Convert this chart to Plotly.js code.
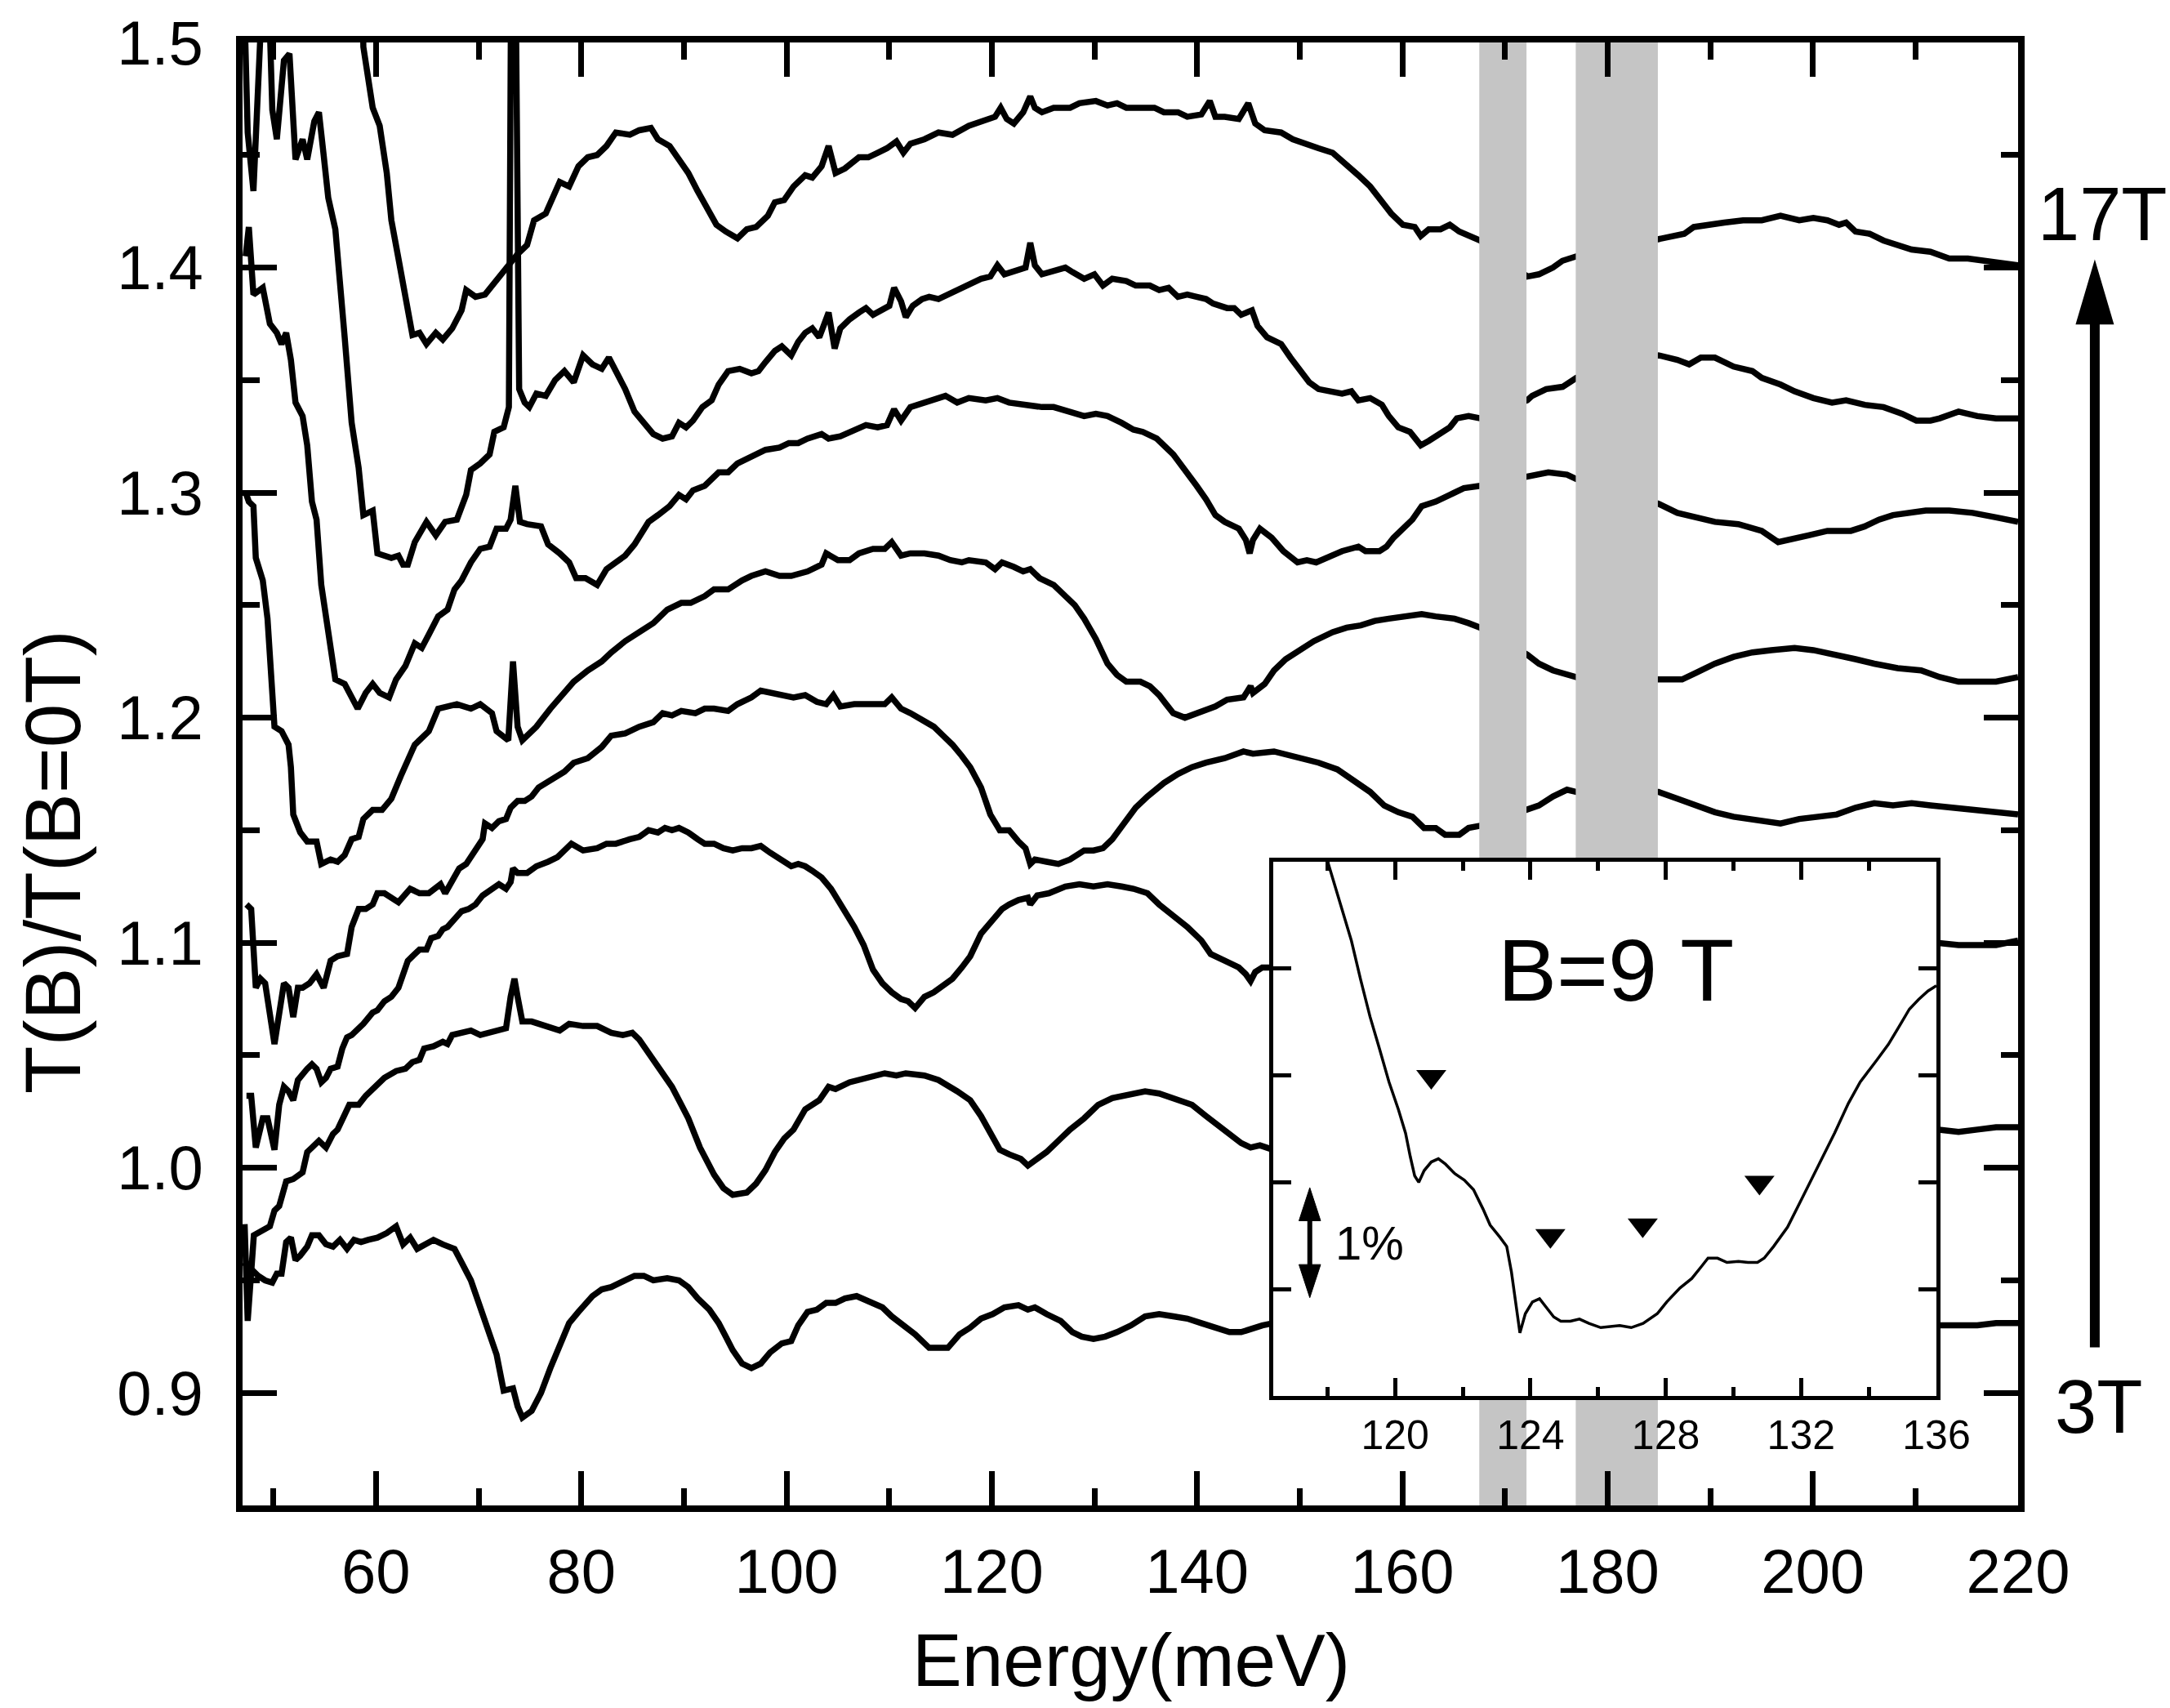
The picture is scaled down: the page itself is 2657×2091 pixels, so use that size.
<!DOCTYPE html>
<html>
<head>
<meta charset="utf-8">
<script src="https://cdn.plot.ly/plotly-3.0.1.min.js"></script>
<style>html,body{margin:0;padding:0;background:#fff;}#chart{width:2657px;height:2091px;}</style>
</head>
<body>
<div id="chart"></div>
<script>
// ---------- main panel data : Energy (meV) and T(B)/T(B=0T) ----------
const fields = ["3T","5T","7T","9T","11T","13T","15T","17T"];

const b17_E = [58.5,58.77,59.68,60.36,61.05,61.5,62.19,62.87,63.55,64.24,64.92,65.83,66.51,67.43,68.34,68.79,69.7,70.62,71.3,71.98,72.67,73.8,74.72,75.4,76.54,77.45,77.9,78.82,79.73,80.64,81.55,82.46,83.37,84.74,85.65,86.79,87.47,88.61,89.52,90.43,91.34,92.26,93.17,94.08,95.22,96.13,97.04,98.18,98.86,99.77,100.68,101.82,102.51,103.42,104.1,104.78,105.69,107.06,107.97,108.88,109.79,110.71,111.39,112.07,113.44,114.81,116.17,117.77,118.95,120.32,120.87,121.46,122.15,123.06,123.75,124.2,124.89,126.03,127.63,128.54,130.14,131.28,132.2,133.11,134.48,135.85,136.77,138.14,139.05,140.42,141.24,141.79,142.7,144.07,144.99,145.67,146.59,148.19,149.33,150.47,151.84,153.21,154.58,155.72,156.87,158.01,158.92,160.06,161.21,161.8,162.58,163.72,164.63,165.55,166.46,167.6,172.17,173.31,174.68,175.6,176.97,184.97,186.1,187.47,188.4,189.54,191.37,193.2,195.02,196.85,198.68,200.05,201.42,202.56,203.24,204.16,205.53,206.89,208.26,209.63,211.46,213.29,215.11,216.94,217.85,220.0];
const b17_T = [1.56,1.498,1.471,1.463,1.442,1.421,1.404,1.388,1.370,1.371,1.366,1.371,1.368,1.373,1.381,1.390,1.387,1.388,1.392,1.396,1.400,1.406,1.410,1.421,1.424,1.434,1.438,1.436,1.445,1.449,1.450,1.454,1.460,1.459,1.461,1.462,1.457,1.454,1.448,1.442,1.434,1.427,1.419,1.416,1.413,1.417,1.418,1.423,1.429,1.430,1.436,1.441,1.440,1.445,1.454,1.442,1.444,1.449,1.449,1.451,1.453,1.456,1.451,1.455,1.457,1.460,1.459,1.463,1.465,1.467,1.471,1.466,1.464,1.469,1.476,1.471,1.469,1.471,1.471,1.473,1.474,1.472,1.473,1.471,1.471,1.471,1.469,1.469,1.467,1.468,1.474,1.467,1.467,1.466,1.473,1.464,1.461,1.460,1.457,1.455,1.453,1.451,1.446,1.441,1.436,1.429,1.424,1.419,1.418,1.414,1.417,1.417,1.419,1.416,1.414,1.412,1.396,1.397,1.400,1.403,1.405,1.413,1.414,1.415,1.418,1.419,1.420,1.421,1.421,1.423,1.421,1.422,1.421,1.419,1.420,1.416,1.415,1.412,1.410,1.408,1.407,1.404,1.404,1.403,1.402,1.401];

const b15_E = [47.1,47.5,48.06,48.6,49.0,49.5,49.9,50.34,50.8,51.03,51.57,52.16,52.85,53.3,53.99,54.44,54.9,55.35,56.04,56.49,56.95,57.63,58.31,58.77,59.68,60.14,61.5,62.19,62.64,63.1,63.78,64.92,65.83,66.74,67.88,68.79,69.25,70.16,71.07,71.53,72.44,72.95,73.2,73.55,73.95,74.49,74.94,75.63,76.54,77.45,78.36,79.27,80.18,81.09,82.0,82.69,83.37,84.28,85.19,86.1,87.02,87.93,88.84,89.52,90.21,90.89,91.8,92.71,93.39,94.31,95.44,96.58,97.27,97.95,98.86,99.54,100.46,101.14,101.82,102.51,103.19,104.1,104.69,105.24,106.15,107.06,107.74,108.43,109.34,110.02,110.48,111.16,111.62,112.3,113.21,113.9,114.81,116.17,117.77,118.95,119.86,120.55,121.23,122.6,123.29,123.75,124.2,124.89,126.26,127.17,127.86,129.0,130.0,130.83,131.74,133.11,134.02,135.4,136.31,137.23,138.14,139.05,139.96,140.88,141.56,142.93,143.62,144.3,145.35,145.9,146.82,148.19,149.1,150.01,150.93,151.84,153.21,154.13,155.04,155.72,156.87,158.01,158.69,159.61,160.75,161.8,162.58,163.72,164.63,165.32,166.46,167.6,172.17,172.65,174.02,175.62,176.97,184.98,186.8,187.95,189.09,190.46,192.28,194.11,195.02,196.85,198.22,200.05,201.87,203.24,205.07,206.89,208.72,210.09,211.46,212.37,214.2,216.03,217.85,220.0];
const b15_T = [1.53,1.46,1.434,1.48,1.53,1.53,1.47,1.457,1.48,1.492,1.495,1.448,1.457,1.448,1.465,1.469,1.450,1.431,1.417,1.396,1.369,1.331,1.311,1.290,1.292,1.273,1.271,1.272,1.268,1.268,1.278,1.287,1.281,1.287,1.288,1.299,1.310,1.313,1.317,1.327,1.329,1.338,1.56,1.56,1.346,1.340,1.338,1.344,1.343,1.350,1.354,1.349,1.361,1.357,1.355,1.360,1.354,1.346,1.336,1.331,1.326,1.324,1.325,1.331,1.329,1.332,1.338,1.341,1.348,1.354,1.355,1.353,1.354,1.358,1.363,1.365,1.361,1.367,1.371,1.373,1.369,1.380,1.364,1.373,1.377,1.380,1.382,1.379,1.381,1.383,1.391,1.385,1.378,1.383,1.386,1.387,1.386,1.389,1.392,1.395,1.396,1.401,1.397,1.399,1.400,1.411,1.401,1.397,1.399,1.400,1.398,1.395,1.397,1.392,1.395,1.394,1.392,1.392,1.390,1.391,1.387,1.388,1.387,1.386,1.384,1.382,1.382,1.379,1.381,1.374,1.369,1.366,1.360,1.355,1.349,1.346,1.345,1.344,1.345,1.341,1.342,1.339,1.334,1.329,1.327,1.321,1.323,1.326,1.329,1.333,1.334,1.333,1.341,1.343,1.346,1.347,1.351,1.361,1.359,1.357,1.360,1.360,1.356,1.354,1.351,1.348,1.345,1.342,1.340,1.341,1.339,1.338,1.335,1.332,1.332,1.333,1.336,1.334,1.333,1.333];

const b13_E = [47.3,47.61,48.06,48.97,49.66,50.34,50.8,51.25,51.71,52.16,52.85,53.3,53.76,54.21,54.67,55.35,56.04,56.95,57.63,58.22,59.0,59.68,60.36,61.28,61.96,62.87,63.78,64.46,65.15,66.06,66.97,67.65,68.34,69.25,70.16,71.07,71.75,72.67,73.12,73.58,74.03,74.72,76.08,76.77,77.9,78.82,79.5,80.41,81.55,82.46,83.37,84.28,85.19,86.56,87.47,88.61,89.52,90.21,90.89,92.03,93.39,94.31,95.22,96.58,97.95,99.32,100.23,101.14,102.05,103.42,104.1,105.24,106.61,107.74,108.88,109.79,110.48,111.16,112.07,113.44,114.81,115.49,116.63,117.77,119.41,120.55,121.69,123.06,123.75,124.89,126.03,127.63,129.0,130.14,131.28,132.65,133.8,134.71,136.08,137.68,139.05,139.96,140.88,141.79,142.7,144.07,144.76,145.13,145.45,146.13,147.27,148.41,149.79,150.7,151.61,152.75,154.13,155.72,156.41,157.78,158.46,159.15,160.98,161.89,163.26,164.63,166.0,167.6,172.17,174.23,176.05,176.97,184.98,186.8,188.63,190.46,192.74,195.02,196.62,197.76,199.59,201.42,203.7,205.07,206.44,207.81,209.18,211.0,213.29,215.57,217.85,220.0];
const b13_T = [1.405,1.418,1.388,1.391,1.375,1.371,1.366,1.371,1.359,1.340,1.334,1.321,1.296,1.288,1.259,1.238,1.217,1.215,1.209,1.204,1.211,1.215,1.211,1.209,1.217,1.223,1.233,1.231,1.237,1.245,1.248,1.257,1.261,1.269,1.275,1.276,1.284,1.284,1.288,1.303,1.287,1.286,1.285,1.277,1.273,1.269,1.262,1.262,1.259,1.266,1.269,1.272,1.277,1.287,1.290,1.294,1.299,1.297,1.301,1.303,1.309,1.309,1.313,1.316,1.319,1.320,1.322,1.322,1.324,1.326,1.324,1.325,1.328,1.330,1.329,1.330,1.337,1.332,1.338,1.340,1.342,1.343,1.340,1.342,1.341,1.342,1.340,1.339,1.339,1.338,1.338,1.336,1.334,1.335,1.334,1.331,1.328,1.327,1.324,1.317,1.309,1.303,1.297,1.290,1.287,1.284,1.279,1.273,1.279,1.284,1.280,1.274,1.269,1.270,1.269,1.271,1.274,1.276,1.274,1.274,1.276,1.280,1.288,1.294,1.296,1.299,1.302,1.303,1.307,1.309,1.308,1.306,1.295,1.291,1.289,1.287,1.286,1.283,1.278,1.279,1.281,1.283,1.283,1.285,1.288,1.290,1.291,1.292,1.292,1.291,1.289,1.287];

const b11_E = [47.3,47.61,48.06,48.29,48.97,49.43,50.11,50.8,51.48,51.71,51.94,52.62,53.3,54.21,54.67,55.58,56.26,56.95,57.63,58.31,58.77,59.68,60.59,61.5,62.41,63.78,65.15,66.06,67.88,69.25,70.16,71.3,71.75,72.44,72.89,73.35,73.8,74.26,75.63,76.99,78.36,79.27,80.64,82.0,82.92,84.28,85.65,87.02,88.38,89.75,90.66,92.03,92.94,94.31,95.67,96.58,97.95,99.32,100.46,101.14,102.05,103.42,103.87,105.01,106.15,107.06,108.43,109.57,110.25,111.16,112.07,113.44,114.81,115.95,117.08,117.77,119.41,120.32,121.0,122.15,123.06,123.75,124.66,126.03,127.17,128.09,129.0,130.14,131.28,132.2,133.11,134.48,135.4,136.31,136.99,137.68,138.82,139.96,140.88,141.79,142.93,144.53,145.22,145.45,146.59,147.5,148.64,150.01,151.38,153.21,154.58,155.95,157.32,158.69,160.52,161.89,163.26,165.09,166.46,167.6,172.17,173.31,174.68,176.05,176.97,184.98,187.26,188.63,190.46,192.28,194.11,195.94,198.22,200.05,202.33,204.16,205.98,208.26,210.55,212.37,214.2,216.03,217.85,220.0];
const b11_T = [1.300,1.296,1.294,1.271,1.261,1.244,1.196,1.194,1.188,1.178,1.157,1.149,1.145,1.145,1.135,1.137,1.136,1.139,1.146,1.147,1.155,1.159,1.159,1.164,1.174,1.188,1.194,1.204,1.206,1.204,1.206,1.202,1.194,1.192,1.190,1.225,1.196,1.190,1.196,1.204,1.211,1.216,1.221,1.225,1.229,1.234,1.238,1.242,1.248,1.251,1.251,1.254,1.257,1.257,1.261,1.263,1.265,1.263,1.263,1.264,1.265,1.268,1.273,1.270,1.270,1.273,1.275,1.275,1.278,1.272,1.273,1.273,1.272,1.270,1.269,1.270,1.269,1.266,1.269,1.267,1.265,1.266,1.262,1.259,1.254,1.250,1.244,1.235,1.224,1.219,1.216,1.216,1.214,1.210,1.206,1.202,1.200,1.202,1.204,1.205,1.208,1.209,1.214,1.211,1.215,1.221,1.226,1.230,1.234,1.238,1.240,1.241,1.243,1.244,1.245,1.246,1.245,1.244,1.242,1.240,1.228,1.224,1.221,1.219,1.218,1.217,1.217,1.220,1.224,1.227,1.229,1.230,1.231,1.230,1.228,1.226,1.224,1.222,1.221,1.218,1.216,1.216,1.216,1.218];

const b9_E = [47.38,47.84,48.29,48.75,49.2,50.11,51.03,51.48,51.94,52.39,52.85,53.53,54.21,54.9,55.58,56.26,57.18,57.63,58.31,59.0,59.68,60.14,60.82,62.19,63.33,64.24,65.15,65.83,66.29,66.74,67.43,68.11,68.79,69.48,70.39,70.62,71.3,71.98,72.67,73.12,73.8,74.49,75.17,75.85,76.54,77.45,78.36,79.27,80.64,82.0,82.92,84.28,85.65,87.02,87.93,88.84,89.75,91.12,92.03,92.94,94.31,95.22,96.58,97.49,98.41,99.32,100.68,101.82,102.96,103.87,104.56,105.24,106.61,108.43,109.57,110.25,111.16,112.07,113.44,114.35,115.26,116.17,117.08,117.9,118.95,119.86,120.78,121.69,122.6,123.29,123.75,124.2,125.34,126.49,127.63,129.0,129.91,130.83,131.74,133.11,134.02,135.17,136.77,138.14,139.51,140.88,142.7,144.53,145.45,147.5,150.01,151.84,153.67,155.5,156.87,158.24,159.61,160.98,162.12,163.26,164.17,165.55,166.46,167.6,172.17,173.31,174.68,176.05,176.97,184.98,186.8,188.63,190.46,192.28,195.02,196.85,198.68,200.5,202.33,204.16,205.98,207.81,209.63,211.46,213.29,215.11,216.94,220.0];
const b9_T = [1.117,1.115,1.080,1.084,1.082,1.055,1.082,1.080,1.067,1.080,1.080,1.082,1.086,1.080,1.092,1.094,1.095,1.107,1.115,1.115,1.117,1.122,1.122,1.118,1.124,1.122,1.122,1.124,1.126,1.122,1.127,1.133,1.135,1.140,1.146,1.153,1.151,1.154,1.155,1.160,1.163,1.163,1.165,1.169,1.171,1.174,1.176,1.180,1.182,1.187,1.192,1.193,1.196,1.198,1.202,1.201,1.203,1.202,1.204,1.204,1.203,1.206,1.209,1.212,1.211,1.210,1.209,1.210,1.207,1.206,1.210,1.205,1.206,1.206,1.206,1.209,1.204,1.202,1.198,1.196,1.192,1.188,1.183,1.178,1.169,1.157,1.150,1.150,1.145,1.142,1.135,1.137,1.136,1.135,1.137,1.141,1.141,1.142,1.146,1.155,1.160,1.165,1.171,1.175,1.178,1.180,1.182,1.185,1.184,1.185,1.182,1.180,1.177,1.171,1.167,1.161,1.158,1.156,1.151,1.151,1.148,1.148,1.151,1.152,1.159,1.161,1.165,1.168,1.167,1.167,1.164,1.161,1.158,1.156,1.154,1.153,1.155,1.156,1.157,1.160,1.162,1.161,1.162,1.161,1.160,1.159,1.158,1.157];

const b7_E = [47.38,47.84,48.29,48.97,49.43,50.11,50.57,51.03,51.48,51.94,52.39,52.85,53.3,53.76,54.21,54.67,55.13,55.58,56.26,56.72,57.18,57.63,58.09,58.77,59.68,60.14,60.82,61.5,62.19,62.64,63.1,63.55,64.24,64.92,65.38,66.06,66.51,66.97,67.65,68.34,69.02,69.7,70.39,71.07,71.98,72.67,73.12,73.35,73.8,74.72,75.63,76.77,77.68,78.36,79.04,80.18,81.55,82.46,83.37,84.74,85.65,86.56,87.47,88.16,88.84,89.52,90.43,91.34,92.03,92.94,93.85,94.76,95.67,96.58,97.49,98.41,99.32,100.46,101.14,101.82,102.51,103.42,104.33,105.01,105.69,106.61,107.52,108.43,109.34,110.25,111.16,111.85,112.53,113.44,114.35,115.26,116.17,117.08,117.9,118.95,119.86,120.55,121.0,121.69,122.6,123.52,123.75,124.43,125.57,127.17,128.54,129.91,131.28,132.65,133.8,135.17,136.31,137.68,139.05,140.42,141.33,142.7,144.07,144.76,145.22,145.67,146.36,147.42,null,212.1,214.2,216.03,217.85,220.0];
const b7_T = [1.032,1.032,1.009,1.022,1.022,1.008,1.028,1.036,1.034,1.030,1.039,1.042,1.044,1.046,1.044,1.038,1.040,1.044,1.045,1.053,1.058,1.059,1.061,1.064,1.069,1.070,1.074,1.076,1.080,1.086,1.092,1.094,1.097,1.097,1.102,1.103,1.106,1.107,1.111,1.114,1.115,1.117,1.121,1.123,1.126,1.124,1.127,1.133,1.131,1.131,1.134,1.136,1.138,1.141,1.144,1.141,1.142,1.144,1.144,1.146,1.147,1.150,1.149,1.151,1.150,1.151,1.149,1.146,1.144,1.144,1.142,1.141,1.142,1.142,1.143,1.140,1.137,1.134,1.135,1.134,1.132,1.129,1.124,1.119,1.113,1.107,1.099,1.088,1.082,1.078,1.075,1.074,1.071,1.076,1.078,1.081,1.084,1.089,1.094,1.104,1.109,1.113,1.115,1.117,1.119,1.120,1.117,1.121,1.122,1.125,1.126,1.125,1.126,1.125,1.124,1.122,1.117,1.112,1.107,1.101,1.095,1.092,1.089,1.086,1.083,1.087,1.089,1.089,null,1.100,1.099,1.099,1.099,1.101];

const b5_E = [47.2,47.5,48.1,48.97,49.66,50.11,50.57,51.25,51.94,52.85,53.3,53.76,54.44,55.13,55.81,56.26,57.4,58.31,59.0,60.14,60.82,61.96,62.87,63.55,64.24,64.69,65.6,66.51,66.97,67.43,68.34,69.25,70.16,71.07,71.98,72.67,73.12,73.49,73.8,74.26,75.17,76.54,77.9,78.82,80.18,81.55,82.92,84.05,84.97,85.65,86.56,87.7,88.84,89.75,90.43,91.57,92.26,92.94,93.85,94.76,96.13,97.04,97.95,98.86,99.77,100.68,101.82,103.19,104.1,104.78,106.15,107.06,108.43,109.57,110.71,111.62,113.44,114.81,116.63,117.9,118.95,120.09,120.78,121.69,122.83,123.52,124.43,125.34,126.71,127.63,129.0,130.37,131.74,133.57,134.94,136.31,137.68,139.51,140.88,141.79,142.93,144.3,145.22,146.13,147.42,null,212.1,214.2,216.03,217.85,220.0];
const b5_T = [0.975,0.932,0.970,0.972,0.974,0.981,0.983,0.994,0.995,0.998,1.007,1.009,1.012,1.009,1.015,1.017,1.028,1.028,1.032,1.037,1.040,1.043,1.044,1.047,1.048,1.053,1.054,1.056,1.055,1.059,1.060,1.061,1.059,1.060,1.061,1.062,1.076,1.084,1.076,1.065,1.065,1.063,1.061,1.064,1.063,1.063,1.060,1.059,1.060,1.057,1.051,1.044,1.036,1.028,1.022,1.009,1.003,0.997,0.991,0.988,0.989,0.993,0.999,1.007,1.013,1.017,1.026,1.030,1.036,1.035,1.038,1.039,1.041,1.042,1.041,1.042,1.041,1.039,1.034,1.030,1.023,1.013,1.008,1.006,1.004,1.001,1.004,1.007,1.013,1.017,1.022,1.028,1.031,1.033,1.034,1.033,1.031,1.028,1.023,1.020,1.016,1.011,1.009,1.010,1.008,null,1.017,1.016,1.017,1.018,1.018];

const b3_E = [47.1,47.38,48.52,49.2,49.89,50.34,50.8,51.25,51.71,52.16,52.62,53.3,53.76,54.44,55.13,55.81,56.49,57.18,57.86,58.54,59.23,60.14,61.05,61.96,62.64,63.33,64.01,64.69,65.6,66.51,67.65,68.34,69.25,70.16,71.07,71.75,72.44,73.35,73.8,74.26,75.17,76.08,76.99,77.9,78.82,79.73,81.09,82.0,82.92,84.28,85.19,86.1,87.02,88.38,89.52,90.43,91.34,92.48,93.39,94.08,94.76,95.67,96.58,97.49,98.41,99.54,100.46,101.14,102.05,102.96,103.87,104.78,105.69,106.83,107.97,109.34,110.25,111.16,112.53,113.9,114.81,115.72,116.86,117.9,118.95,120.09,121.23,122.6,123.52,124.2,125.34,126.71,127.86,128.77,129.91,131.05,132.2,133.57,134.94,136.31,137.68,139.05,140.42,141.79,143.16,144.3,145.45,146.36,147.42,null,212.1,214.2,216.03,217.85,220.0];
const b3_T = [0.958,0.957,0.952,0.950,0.949,0.953,0.953,0.967,0.969,0.959,0.961,0.965,0.970,0.970,0.966,0.965,0.968,0.964,0.968,0.967,0.968,0.969,0.971,0.974,0.966,0.969,0.964,0.966,0.968,0.966,0.964,0.958,0.950,0.938,0.925,0.917,0.901,0.902,0.894,0.889,0.892,0.900,0.911,0.921,0.931,0.936,0.943,0.946,0.947,0.950,0.952,0.952,0.950,0.951,0.950,0.947,0.942,0.937,0.931,0.925,0.919,0.913,0.911,0.913,0.918,0.922,0.923,0.930,0.936,0.937,0.940,0.940,0.942,0.943,0.941,0.938,0.934,0.931,0.926,0.920,0.920,0.920,0.926,0.929,0.933,0.935,0.938,0.939,0.937,0.938,0.935,0.932,0.927,0.925,0.924,0.925,0.927,0.930,0.934,0.935,0.934,0.933,0.931,0.929,0.927,0.927,0.929,0.930,0.931,null,0.930,0.930,0.930,0.931,0.931];

// grey (excluded) energy windows, meV
const bandLo = [167.5, 176.9];
const bandHi = [172.1, 184.9];

// ---------- inset (B = 9 T, zoom 116-136 meV, relative %) ----------
const in_E = [118.01,118.43,118.71,118.98,119.26,119.54,119.82,120.10,120.31,120.45,120.58,120.70,120.86,121.07,121.28,121.49,121.77,122.05,122.32,122.60,122.81,123.09,123.30,123.44,123.58,123.69,123.85,124.06,124.27,124.48,124.69,124.90,125.18,125.45,125.73,126.08,126.36,126.64,126.98,127.33,127.75,128.03,128.42,128.77,129.05,129.25,129.53,129.81,130.15,130.43,130.71,130.91,131.19,131.60,131.95,132.30,132.64,132.99,133.40,133.75,134.23,134.58,134.92,135.20,135.47,135.75,136.0];
const in_P = [5.00,4.56,4.26,3.90,3.55,3.25,2.94,2.68,2.46,2.24,2.06,2.00,2.11,2.19,2.22,2.17,2.08,2.02,1.93,1.75,1.60,1.49,1.40,1.16,0.83,0.59,0.77,0.88,0.91,0.83,0.74,0.70,0.70,0.72,0.68,0.64,0.65,0.66,0.64,0.68,0.77,0.88,1.01,1.10,1.21,1.29,1.29,1.25,1.26,1.25,1.25,1.29,1.40,1.58,1.80,2.02,2.24,2.46,2.74,2.94,3.14,3.29,3.47,3.62,3.71,3.79,3.84];
const mark_E = [121.07, 124.59, 127.32, 130.77];
const mark_P = [2.99, 1.50, 1.60, 2.00];

// ---------- styling ----------
const FONT = 'Liberation Sans, Arial, Helvetica, sans-serif';
const BLACK = '#000000';
const GREY = '#c5c5c5';
const yRange = [0.85, 1.5];

const curves = {"3T":[b3_E,b3_T],"5T":[b5_E,b5_T],"7T":[b7_E,b7_T],"9T":[b9_E,b9_T],
                "11T":[b11_E,b11_T],"13T":[b13_E,b13_T],"15T":[b15_E,b15_T],"17T":[b17_E,b17_T]};

const traces = [];
fields.forEach(f => {
  traces.push({x: curves[f][0], y: curves[f][1], name: f, type: 'scatter', mode: 'lines',
    xaxis: 'x', yaxis: 'y', line: {color: BLACK, width: 7.5}, hoverinfo: 'skip', showlegend: false});
});
bandLo.forEach((lo, i) => {
  const hi = bandHi[i];
  traces.push({x: [lo, hi, hi, lo, lo], y: [yRange[0], yRange[0], yRange[1], yRange[1], yRange[0]],
    type: 'scatter', mode: 'lines', fill: 'toself', fillcolor: GREY, line: {width: 0, color: GREY},
    xaxis: 'x', yaxis: 'y', hoverinfo: 'skip', showlegend: false});
});
traces.push({x: in_E, y: in_P, type: 'scatter', mode: 'lines', xaxis: 'x2', yaxis: 'y2',
  line: {color: BLACK, width: 3.5}, hoverinfo: 'skip', showlegend: false});
traces.push({x: mark_E, y: mark_P, type: 'scatter', mode: 'markers', xaxis: 'x2', yaxis: 'y2',
  marker: {symbol: 'triangle-down', size: 32, color: BLACK}, hoverinfo: 'skip', showlegend: false});

// arrow on the right (paper coordinates)
const arrX = 1.0432, arrTail = 0.108, arrTip = 0.8498, headLen = 0.042, headHalf = 0.0102;
// double arrow "1%" in inset coordinates
const dX = 117.48, dTop = 1.95, dBot = 0.92, dHead = 0.31, dHalf = 0.32;

const shapes = [
  {type: 'line', xref: 'paper', yref: 'paper', x0: arrX, x1: arrX, y0: arrTail, y1: arrTip - headLen + 0.003,
   line: {color: BLACK, width: 12}, layer: 'above'},
  {type: 'path', xref: 'paper', yref: 'paper', layer: 'above', fillcolor: BLACK, line: {color: BLACK, width: 2},
   path: `M ${arrX - headHalf},${arrTip - headLen} L ${arrX + headHalf},${arrTip - headLen} L ${arrX},${arrTip} Z`},
  {type: 'line', xref: 'x2', yref: 'y2', x0: dX, x1: dX, y0: dBot + dHead - 0.02, y1: dTop - dHead + 0.02,
   line: {color: BLACK, width: 6}, layer: 'above'},
  {type: 'path', xref: 'x2', yref: 'y2', layer: 'above', fillcolor: BLACK, line: {color: BLACK, width: 1},
   path: `M ${dX - dHalf},${dTop - dHead} L ${dX + dHalf},${dTop - dHead} L ${dX},${dTop} Z`},
  {type: 'path', xref: 'x2', yref: 'y2', layer: 'above', fillcolor: BLACK, line: {color: BLACK, width: 1},
   path: `M ${dX - dHalf},${dBot + dHead} L ${dX + dHalf},${dBot + dHead} L ${dX},${dBot} Z`}
];

const annotations = [
  {text: 'Energy(meV)', xref: 'paper', yref: 'paper', x: 0.5005, y: -0.106, showarrow: false,
   xanchor: 'center', yanchor: 'middle', font: {family: FONT, size: 91, color: BLACK}},
  {text: 'T(B)/T(B=0T)', xref: 'paper', yref: 'paper', x: -0.1066, y: 0.44, showarrow: false, textangle: -90,
   xanchor: 'center', yanchor: 'middle', font: {family: FONT, size: 96, color: BLACK}},
  {text: '17T', xref: 'paper', yref: 'paper', x: 1.0478, y: 0.8827, showarrow: false,
   xanchor: 'center', yanchor: 'middle', font: {family: FONT, size: 92, color: BLACK}},
  {text: '3T', xref: 'paper', yref: 'paper', x: 1.0455, y: 0.0676, showarrow: false,
   xanchor: 'center', yanchor: 'middle', font: {family: FONT, size: 92, color: BLACK}},
  {text: 'B=9 T', xref: 'x2', yref: 'y2', x: 126.52, y: 3.99, showarrow: false,
   xanchor: 'center', yanchor: 'middle', font: {family: FONT, size: 108, color: BLACK}},
  {text: '1%', xref: 'x2', yref: 'y2', x: 119.26, y: 1.43, showarrow: false,
   xanchor: 'center', yanchor: 'middle', font: {family: FONT, size: 58, color: BLACK}}
];

const axBase = {showgrid: false, zeroline: false, showline: true, linecolor: BLACK, mirror: 'ticks',
  ticks: 'inside', tickcolor: BLACK, tickfont: {family: FONT, size: 76, color: BLACK}};

const layout = {
  width: 2657, height: 2091,
  margin: {l: 297, r: 186, t: 52, b: 248, pad: 0},
  paper_bgcolor: '#ffffff', plot_bgcolor: '#ffffff',
  showlegend: false,
  font: {family: FONT, color: BLACK},
  xaxis: Object.assign({}, axBase, {range: [47, 220], tick0: 0, dtick: 20, ticklen: 42, tickwidth: 7, linewidth: 8,
    ticklabelstandoff: 8,
    minor: {dtick: 10, ticklen: 21, tickwidth: 7, ticks: 'inside', tickcolor: BLACK}, anchor: 'y'}),
  yaxis: Object.assign({}, axBase, {range: yRange, tick0: 0, dtick: 0.1, tickformat: '.1f', ticklen: 42, tickwidth: 7, linewidth: 8,
    ticklabelstandoff: 25,
    minor: {dtick: 0.05, ticklen: 21, tickwidth: 7, ticks: 'inside', tickcolor: BLACK}, anchor: 'x'}),
  xaxis2: Object.assign({}, axBase, {domain: [0.5805, 0.954], range: [116.4, 136.0], anchor: 'y2', tick0: 120, dtick: 4,
    ticklen: 22, tickwidth: 5, linewidth: 5, tickfont: {family: FONT, size: 50, color: BLACK},
    minor: {dtick: 2, ticklen: 11, tickwidth: 5, ticks: 'inside', tickcolor: BLACK}}),
  yaxis2: Object.assign({}, axBase, {domain: [0.0748, 0.44], range: [0, 5], anchor: 'x2', dtick: 1,
    ticklen: 22, tickwidth: 5, linewidth: 5, showticklabels: false}),
  shapes: shapes,
  annotations: annotations
};

Plotly.newPlot('chart', traces, layout, {staticPlot: true, displayModeBar: false});
</script>
</body>
</html>
